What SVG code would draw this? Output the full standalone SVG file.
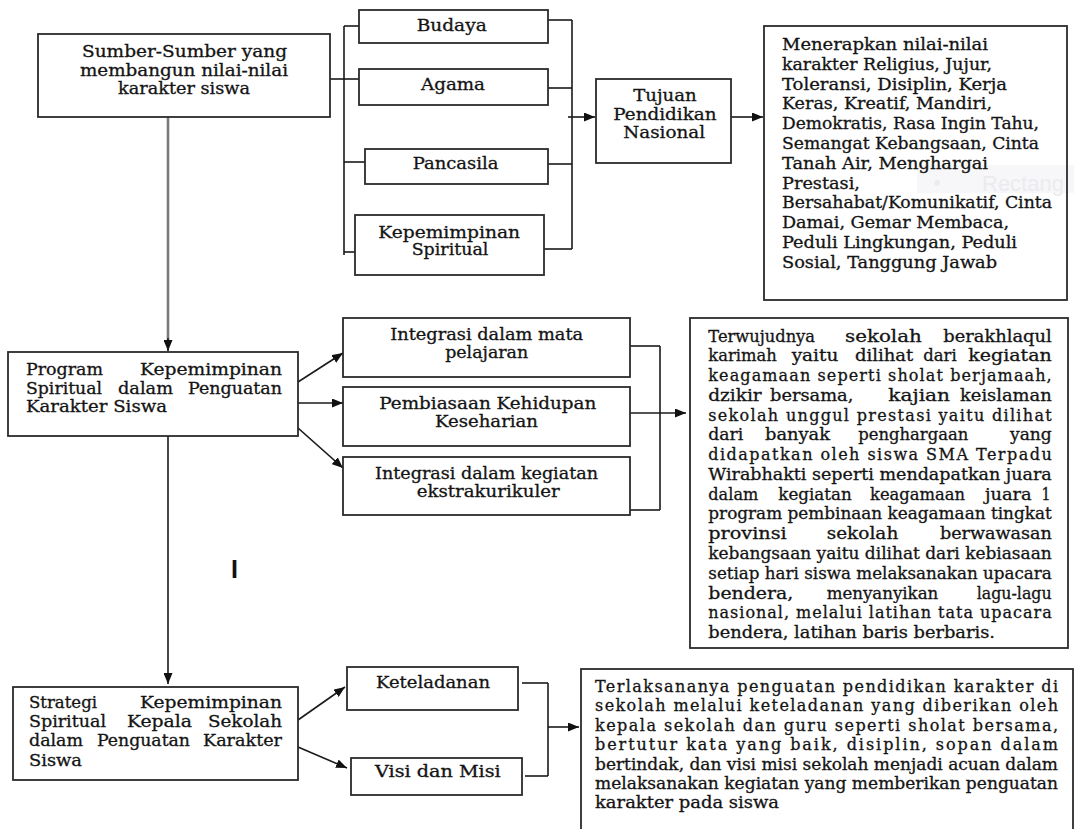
<svg xmlns="http://www.w3.org/2000/svg" width="1074" height="829" viewBox="0 0 1074 829">
<style>
.b{fill:none;stroke:#2b2b2b;stroke-width:1.8}
.c{fill:none;stroke:#1a1a1a;stroke-width:1.6}
.g{fill:none;stroke:#7a7a7a;stroke-width:2.6}
text{font-family:"DejaVu Serif","Liberation Serif",serif;font-size:16px;fill:#141414;stroke:#141414;stroke-width:0.3}
.m{font-family:"Liberation Sans",Arial,sans-serif;font-weight:bold;font-size:25px;fill:#111;stroke:none}
.w{font-family:"Liberation Sans",Arial,sans-serif;font-size:22px;fill:#ebebef;stroke:none}
</style>
<defs>
<marker id="ah" markerUnits="userSpaceOnUse" markerWidth="11" markerHeight="9" refX="11" refY="4.5" orient="auto">
<path d="M0,0 L11,4.5 L0,9 z" fill="#111"/>
</marker>
</defs>
<rect width="1074" height="829" fill="#fff"/>
<g id="watermark">
<rect x="917" y="165" width="157" height="28" fill="#f7f7f9"/>
<circle cx="937" cy="183" r="3" fill="#ececef"/>
<text class="w" x="982" y="191">Rectang</text>
</g>
<g id="connectors">
<line class="g" x1="168" y1="117" x2="168" y2="341"/>
<line class="c" x1="168" y1="338" x2="168" y2="351" marker-end="url(#ah)"/>
<line class="c" x1="168" y1="436" x2="168" y2="684" marker-end="url(#ah)"/>
<polyline class="c" points="330,79 344,79"/>
<line class="c" x1="344" y1="26" x2="344" y2="255"/>
<line class="c" x1="344" y1="26" x2="359" y2="26"/>
<line class="c" x1="344" y1="79" x2="359" y2="79"/>
<line class="c" x1="344" y1="162" x2="365" y2="162"/>
<line class="c" x1="344" y1="252" x2="355" y2="252"/>
<line class="c" x1="572" y1="20" x2="572" y2="249"/>
<line class="c" x1="548" y1="20" x2="572" y2="20"/>
<line class="c" x1="548" y1="88" x2="572" y2="88"/>
<line class="c" x1="548" y1="164" x2="572" y2="164"/>
<line class="c" x1="544" y1="249" x2="572" y2="249"/>
<line class="c" x1="568" y1="117" x2="595" y2="117" marker-end="url(#ah)"/>
<line class="c" x1="731" y1="117" x2="763" y2="117" marker-end="url(#ah)"/>
<line class="c" x1="298" y1="382" x2="343" y2="353" marker-end="url(#ah)"/>
<line class="c" x1="298" y1="403" x2="343" y2="403" marker-end="url(#ah)"/>
<line class="c" x1="298" y1="428" x2="343" y2="468" marker-end="url(#ah)"/>
<line class="c" x1="660" y1="346" x2="660" y2="510"/>
<line class="c" x1="630" y1="346" x2="660" y2="346"/>
<line class="c" x1="630" y1="510" x2="660" y2="510"/>
<line class="c" x1="630" y1="413" x2="686" y2="413" marker-end="url(#ah)"/>
<line class="c" x1="298" y1="720" x2="345" y2="687" marker-end="url(#ah)"/>
<line class="c" x1="298" y1="747" x2="347" y2="768" marker-end="url(#ah)"/>
<line class="c" x1="548" y1="683" x2="548" y2="776"/>
<line class="c" x1="522" y1="683" x2="548" y2="683"/>
<line class="c" x1="525" y1="776" x2="548" y2="776"/>
<line class="c" x1="548" y1="727" x2="579" y2="727" marker-end="url(#ah)"/>
</g>
<g id="sumber">
<rect class="b" x="38" y="34" width="292" height="83"/>
<text x="82" y="57" textLength="205" lengthAdjust="spacingAndGlyphs">Sumber-Sumber yang</text>
<text x="80" y="75.5" textLength="208" lengthAdjust="spacingAndGlyphs">membangun nilai-nilai</text>
<text x="118" y="94" textLength="132" lengthAdjust="spacingAndGlyphs">karakter siswa</text>
</g>
<g id="budaya">
<rect class="b" x="359" y="10" width="189" height="33"/>
<text x="416.7" y="31" textLength="70" lengthAdjust="spacingAndGlyphs">Budaya</text>
</g>
<g id="agama">
<rect class="b" x="359" y="69" width="189" height="36"/>
<text x="421" y="90" textLength="64" lengthAdjust="spacingAndGlyphs">Agama</text>
</g>
<g id="pancasila">
<rect class="b" x="365" y="149" width="183" height="35"/>
<text x="412.7" y="169" textLength="85.7" lengthAdjust="spacingAndGlyphs">Pancasila</text>
</g>
<g id="kepemimpinan">
<rect class="b" x="355" y="215" width="189" height="60"/>
<text x="378.3" y="238" textLength="141.7" lengthAdjust="spacingAndGlyphs">Kepemimpinan</text>
<text x="411.7" y="255" textLength="76.7" lengthAdjust="spacingAndGlyphs">Spiritual</text>
</g>
<g id="tujuan">
<rect class="b" x="596" y="79" width="135" height="84"/>
<text x="633.3" y="100.7" textLength="63.3" lengthAdjust="spacingAndGlyphs">Tujuan</text>
<text x="613.3" y="119.5" textLength="103.3" lengthAdjust="spacingAndGlyphs">Pendidikan</text>
<text x="623.3" y="138.3" textLength="81.7" lengthAdjust="spacingAndGlyphs">Nasional</text>
</g>
<g id="nilai">
<rect class="b" x="764" y="26" width="303" height="274"/>
<text x="782" y="50" textLength="206" lengthAdjust="spacingAndGlyphs">Menerapkan  nilai-nilai</text>
<text x="782" y="69.8" textLength="210" lengthAdjust="spacingAndGlyphs">karakter Religius, Jujur,</text>
<text x="782" y="89.6" textLength="225" lengthAdjust="spacingAndGlyphs">Toleransi, Disiplin, Kerja</text>
<text x="782" y="109.4" textLength="210" lengthAdjust="spacingAndGlyphs">Keras, Kreatif, Mandiri,</text>
<text x="782" y="129.2" textLength="257" lengthAdjust="spacingAndGlyphs">Demokratis, Rasa Ingin Tahu,</text>
<text x="782" y="149" textLength="257" lengthAdjust="spacingAndGlyphs">Semangat Kebangsaan, Cinta</text>
<text x="782" y="168.8" textLength="206" lengthAdjust="spacingAndGlyphs">Tanah Air, Menghargai</text>
<text x="782" y="188.6" textLength="78" lengthAdjust="spacingAndGlyphs">Prestasi,</text>
<text x="782" y="208.4" textLength="270" lengthAdjust="spacingAndGlyphs">Bersahabat/Komunikatif, Cinta</text>
<text x="782" y="228.2" textLength="227" lengthAdjust="spacingAndGlyphs">Damai, Gemar Membaca,</text>
<text x="782" y="248" textLength="235" lengthAdjust="spacingAndGlyphs">Peduli Lingkungan, Peduli</text>
<text x="782" y="267.8" textLength="215" lengthAdjust="spacingAndGlyphs">Sosial, Tanggung Jawab</text>
</g>
<g id="program">
<rect class="b" x="8" y="352" width="290" height="84"/>
<text x="26" y="375" textLength="77" lengthAdjust="spacingAndGlyphs">Program</text>
<text x="140" y="375" textLength="142" lengthAdjust="spacingAndGlyphs">Kepemimpinan</text>
<text x="26" y="393.5" textLength="76" lengthAdjust="spacingAndGlyphs">Spiritual</text>
<text x="118" y="393.5" textLength="55" lengthAdjust="spacingAndGlyphs">dalam</text>
<text x="188" y="393.5" textLength="94" lengthAdjust="spacingAndGlyphs">Penguatan</text>
<text x="26" y="412" textLength="141" lengthAdjust="spacingAndGlyphs">Karakter Siswa</text>
</g>
<g id="integrasi-mapel">
<rect class="b" x="343" y="318" width="287" height="59"/>
<text x="390.2" y="340" textLength="193" lengthAdjust="spacingAndGlyphs">Integrasi dalam mata</text>
<text x="445.2" y="357.7" textLength="83" lengthAdjust="spacingAndGlyphs">pelajaran</text>
</g>
<g id="pembiasaan">
<rect class="b" x="343" y="387" width="287" height="59"/>
<text x="379.3" y="409" textLength="217" lengthAdjust="spacingAndGlyphs">Pembiasaan Kehidupan</text>
<text x="435" y="426.7" textLength="103" lengthAdjust="spacingAndGlyphs">Keseharian</text>
</g>
<g id="integrasi-ekstra">
<rect class="b" x="343" y="457" width="287" height="58"/>
<text x="375" y="479.3" textLength="223" lengthAdjust="spacingAndGlyphs">Integrasi dalam kegiatan</text>
<text x="416.7" y="496.7" textLength="143" lengthAdjust="spacingAndGlyphs">ekstrakurikuler</text>
</g>
<g id="hasil-program">
<rect class="b" x="690" y="318" width="378" height="330"/>
<text x="708.3" y="341.5" textLength="106.7" lengthAdjust="spacingAndGlyphs">Terwujudnya</text>
<text x="845" y="341.5" textLength="76.7" lengthAdjust="spacingAndGlyphs">sekolah</text>
<text x="943.3" y="341.5" textLength="108.4" lengthAdjust="spacingAndGlyphs">berakhlaqul</text>
<text x="708.3" y="361.3" textLength="68.4" lengthAdjust="spacingAndGlyphs">karimah</text>
<text x="791.7" y="361.3" textLength="46.6" lengthAdjust="spacingAndGlyphs">yaitu</text>
<text x="855" y="361.3" textLength="58.3" lengthAdjust="spacingAndGlyphs">dilihat</text>
<text x="923.3" y="361.3" textLength="33.4" lengthAdjust="spacingAndGlyphs">dari</text>
<text x="968.3" y="361.3" textLength="83.4" lengthAdjust="spacingAndGlyphs">kegiatan</text>
<text x="708.3" y="381" textLength="343.4" lengthAdjust="spacing">keagamaan seperti sholat berjamaah,</text>
<text x="708.3" y="400.8" textLength="53.4" lengthAdjust="spacingAndGlyphs">dzikir</text>
<text x="770" y="400.8" textLength="83.3" lengthAdjust="spacingAndGlyphs">bersama,</text>
<text x="888.3" y="400.8" textLength="61.7" lengthAdjust="spacingAndGlyphs">kajian</text>
<text x="960" y="400.8" textLength="91.7" lengthAdjust="spacingAndGlyphs">keislaman</text>
<text x="708.3" y="420.6" textLength="343.4" lengthAdjust="spacing">sekolah unggul prestasi yaitu dilihat</text>
<text x="708.3" y="440.4" textLength="35" lengthAdjust="spacingAndGlyphs">dari</text>
<text x="765" y="440.4" textLength="65" lengthAdjust="spacingAndGlyphs">banyak</text>
<text x="858.3" y="440.4" textLength="110" lengthAdjust="spacingAndGlyphs">penghargaan</text>
<text x="1010" y="440.4" textLength="41.7" lengthAdjust="spacingAndGlyphs">yang</text>
<text x="708.3" y="460.1" textLength="343.4" lengthAdjust="spacing">didapatkan oleh siswa SMA Terpadu</text>
<text x="708.3" y="479.9" textLength="343.4" lengthAdjust="spacingAndGlyphs">Wirabhakti seperti mendapatkan juara</text>
<text x="708.3" y="499.7" textLength="50" lengthAdjust="spacingAndGlyphs">dalam</text>
<text x="778.3" y="499.7" textLength="73.4" lengthAdjust="spacingAndGlyphs">kegiatan</text>
<text x="870" y="499.7" textLength="95" lengthAdjust="spacingAndGlyphs">keagamaan</text>
<text x="985" y="499.7" textLength="46.7" lengthAdjust="spacingAndGlyphs">juara</text>
<text x="1041.5" y="499.7" textLength="9" lengthAdjust="spacingAndGlyphs">1</text>
<text x="708.3" y="519.4" textLength="343.4" lengthAdjust="spacingAndGlyphs">program pembinaan keagamaan tingkat</text>
<text x="708.3" y="539.2" textLength="78.4" lengthAdjust="spacingAndGlyphs">provinsi</text>
<text x="826.7" y="539.2" textLength="71.6" lengthAdjust="spacingAndGlyphs">sekolah</text>
<text x="940" y="539.2" textLength="111.7" lengthAdjust="spacingAndGlyphs">berwawasan</text>
<text x="708.3" y="559" textLength="343.4" lengthAdjust="spacingAndGlyphs">kebangsaan yaitu dilihat dari kebiasaan</text>
<text x="708.3" y="578.7" textLength="343.4" lengthAdjust="spacingAndGlyphs">setiap hari siswa melaksanakan upacara</text>
<text x="708.3" y="598.5" textLength="85" lengthAdjust="spacingAndGlyphs">bendera,</text>
<text x="826.7" y="598.5" textLength="111.6" lengthAdjust="spacingAndGlyphs">menyanyikan</text>
<text x="976.7" y="598.5" textLength="75" lengthAdjust="spacingAndGlyphs">lagu-lagu</text>
<text x="708.3" y="618.3" textLength="343.4" lengthAdjust="spacing">nasional, melalui latihan tata upacara</text>
<text x="708.3" y="638.1" textLength="286.7" lengthAdjust="spacingAndGlyphs">bendera, latihan baris berbaris.</text>
</g>
<g id="cursor-mark">
<text class="m" x="234.5" y="578" text-anchor="middle">I</text>
</g>
<g id="strategi">
<rect class="b" x="13" y="687" width="285" height="93"/>
<text x="29" y="708" textLength="68" lengthAdjust="spacingAndGlyphs">Strategi</text>
<text x="140" y="708" textLength="142" lengthAdjust="spacingAndGlyphs">Kepemimpinan</text>
<text x="29" y="727.2" textLength="77" lengthAdjust="spacingAndGlyphs">Spiritual</text>
<text x="127" y="727.2" textLength="65" lengthAdjust="spacingAndGlyphs">Kepala</text>
<text x="208" y="727.2" textLength="74" lengthAdjust="spacingAndGlyphs">Sekolah</text>
<text x="29" y="746.4" textLength="54" lengthAdjust="spacingAndGlyphs">dalam</text>
<text x="97" y="746.4" textLength="93" lengthAdjust="spacingAndGlyphs">Penguatan</text>
<text x="203" y="746.4" textLength="79" lengthAdjust="spacingAndGlyphs">Karakter</text>
<text x="29" y="765.7" textLength="53" lengthAdjust="spacingAndGlyphs">Siswa</text>
</g>
<g id="keteladanan">
<rect class="b" x="347" y="667" width="171" height="43"/>
<text x="376" y="687.7" textLength="114" lengthAdjust="spacingAndGlyphs">Keteladanan</text>
</g>
<g id="visi-misi">
<rect class="b" x="351" y="758" width="171" height="37"/>
<text x="375" y="776.7" textLength="125.7" lengthAdjust="spacingAndGlyphs">Visi dan Misi</text>
</g>
<g id="hasil-strategi">
<rect class="b" x="581" y="669" width="492" height="180"/>
<text x="595" y="692" textLength="463" lengthAdjust="spacing">Terlaksananya penguatan pendidikan karakter di</text>
<text x="595" y="711.4" textLength="463" lengthAdjust="spacing">sekolah melalui keteladanan yang diberikan oleh</text>
<text x="595" y="730.8" textLength="463" lengthAdjust="spacing">kepala sekolah dan guru seperti sholat bersama,</text>
<text x="595" y="750.2" textLength="463" lengthAdjust="spacing">bertutur kata yang baik, disiplin, sopan dalam</text>
<text x="595" y="769.6" textLength="463" lengthAdjust="spacingAndGlyphs">bertindak, dan visi misi sekolah menjadi acuan dalam</text>
<text x="595" y="789" textLength="463" lengthAdjust="spacingAndGlyphs">melaksanakan kegiatan yang memberikan penguatan</text>
<text x="595" y="808.4" textLength="184" lengthAdjust="spacingAndGlyphs">karakter pada siswa</text>
</g>
</svg>
